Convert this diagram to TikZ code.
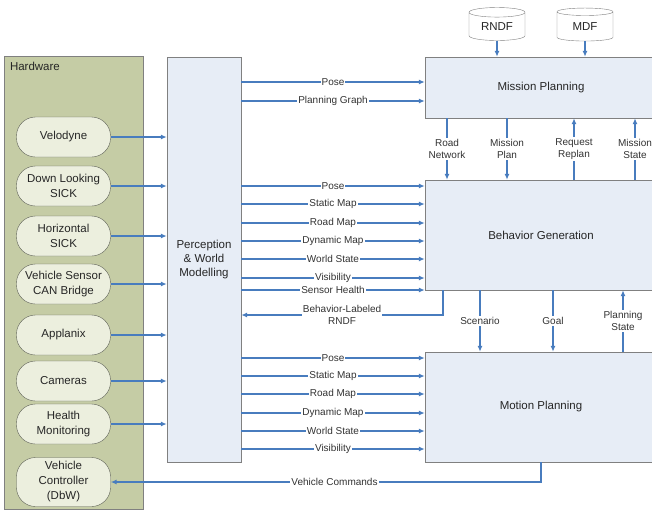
\documentclass[tikz,border=0pt]{standalone}
\usepackage{fontspec}
\setmainfont{Liberation Sans}
\usetikzlibrary{arrows.meta,shapes.geometric}

\definecolor{hwgreen}{RGB}{197,204,165}
\definecolor{pillfill}{RGB}{236,239,222}
\definecolor{pillgray}{RGB}{95,98,88}
\definecolor{boxblue}{RGB}{231,237,246}
\definecolor{boxgray}{RGB}{128,128,128}
\definecolor{flowblue}{RGB}{72,124,190}

\begin{document}
\begin{tikzpicture}
        [x=1pt, y=-1pt,
        box/.style={draw=boxgray, fill=boxblue, minimum width=232pt, minimum height=110pt,
                    inner sep=0pt, text=black!85, font=\fontsize{11.5}{14}\selectfont},
        hw/.style={draw=pillgray, fill=pillfill, rounded corners=19pt, minimum width=94pt,
                   minimum height=40pt, inner sep=0pt, align=center, text=black!85,
                   font=\fontsize{11.5}{15}\selectfont},
        db/.style={cylinder, shape border rotate=90, aspect=0.3, draw=boxgray, fill=white,
                   minimum width=56pt, minimum height=33pt, inner sep=0pt, text=black!85,
                   font=\fontsize{11.5}{14}\selectfont},
        flow/.style={draw=flowblue, line width=1.3pt, -{Latex[length=6pt,width=5pt]}},
        lbl/.style={fill=white, inner sep=1pt, align=center, text=black!80,
                    font=\fontsize{10}{12.5}\selectfont}]

        \useasboundingbox (0,0) rectangle (652,512);

        % --- Hardware column ---
        \node[draw=boxgray, fill=hwgreen, minimum width=139pt, minimum height=453pt] (hwpanel) at (73.5,282.5) {};
        \node[anchor=north west, inner sep=1pt, text=black!85, font=\fontsize{11.5}{14}\selectfont]
            (hwtitle) at ([xshift=5pt, yshift=-5pt]hwpanel.north west) {Hardware};

        \node[hw] (velo) at (63.5,137) {Velodyne};
        \node[hw] (dsick) at (63.5,186) {Down Looking\\SICK};
        \node[hw] (hsick) at (63.5,236) {Horizontal\\SICK};
        \node[hw] (can) at (63.5,284) {Vehicle Sensor\\CAN Bridge};
        \node[hw] (appl) at (63.5,335) {Applanix};
        \node[hw] (cam) at (63.5,381) {Cameras};
        \node[hw] (health) at (63.5,424) {Health\\Monitoring};
        \node[hw, minimum height=49pt] (vc) at (63.5,482) {Vehicle\\Controller\\(DbW)};

        % --- Processing blocks ---
        \node[box, minimum width=74pt, minimum height=405pt, align=center] (perc) at (204,259.5)
            {Perception\\\& World\\Modelling};
        \node[box, minimum height=61pt] (mission) at (541,87.5) {Mission Planning};
        \node[box] (behav) at (541,235) {Behavior Generation};
        \node[box] (motion) at (541,407) {Motion Planning};

        \node[db] (rndf) at (497,26.5) {RNDF};
        \node[db] (mdf) at (585,26.5) {MDF};

        % --- Connectors ---
        \foreach \src in {velo,dsick,hsick,can,appl,cam,health}
            \draw[flow] (\src.east) -- (perc.west |- \src.east);

        \draw[flow] (rndf.south) -- (rndf.south |- mission.north);
        \draw[flow] (mdf.south) -- (mdf.south |- mission.north);

        \foreach \y/\txt in {82/Pose, 101/Planning Graph}
            \draw[flow] (perc.east |- 0,\y) -- node[lbl]{\txt} (mission.west |- 0,\y);

        \foreach \y/\txt in {186/Pose, 204/Static Map, 223/Road Map, 241/Dynamic Map,
                             259/World State, 278/Visibility, 290/Sensor Health}
            \draw[flow] (perc.east |- 0,\y) -- node[lbl]{\txt} (behav.west |- 0,\y);

        \foreach \y/\txt in {358/Pose, 376/Static Map, 394/Road Map, 413/Dynamic Map,
                             431/World State, 449/Visibility}
            \draw[flow] (perc.east |- 0,\y) -- node[lbl]{\txt} (motion.west |- 0,\y);

        \draw[flow] (behav.south -| 443,0) |- node[lbl, pos=0.75]{Behavior-Labeled\\RNDF} (perc.east |- 0,315);

        % mission <-> behavior
        \draw[flow] (mission.south -| 447,0) -- node[lbl]{Road\\Network} (behav.north -| 447,0);
        \draw[flow] (mission.south -| 507,0) -- node[lbl]{Mission\\Plan} (behav.north -| 507,0);
        \draw[flow] (behav.north -| 574,0) -- node[lbl]{Request\\Replan} (mission.south -| 574,0);
        \draw[flow] (behav.north -| 635,0) -- node[lbl]{Mission\\State} (mission.south -| 635,0);

        % behavior <-> motion
        \draw[flow] (behav.south -| 480,0) -- node[lbl]{Scenario} (motion.north -| 480,0);
        \draw[flow] (behav.south -| 553,0) -- node[lbl]{Goal} (motion.north -| 553,0);
        \draw[flow] (motion.north -| 623,0) -- node[lbl]{Planning\\State} (behav.south -| 623,0);

        \draw[flow] (motion.south) |- node[lbl, pos=0.74]{Vehicle Commands} (vc.east);
\end{tikzpicture}
\end{document}
